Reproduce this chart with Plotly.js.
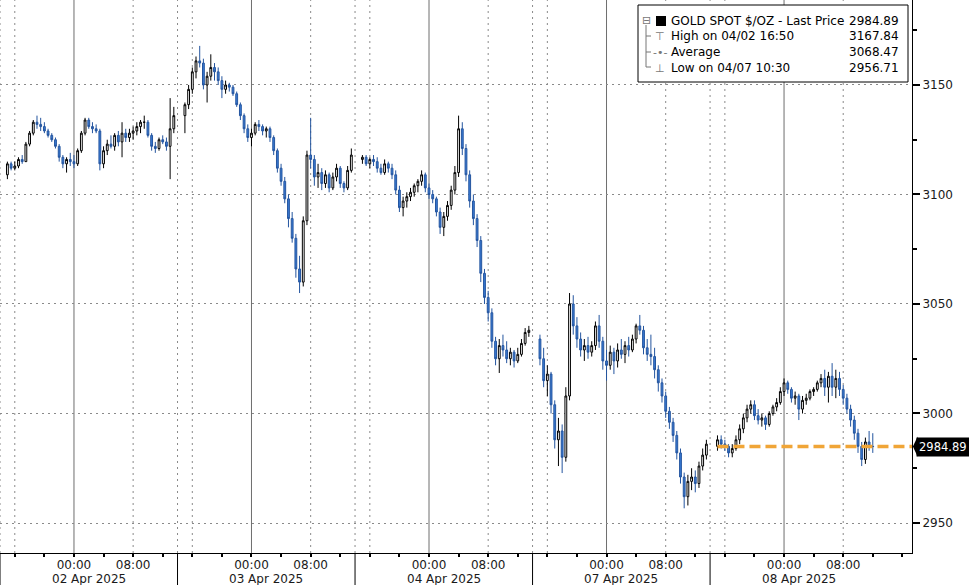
<!DOCTYPE html>
<html><head><meta charset="utf-8">
<script src="https://cdn.plot.ly/plotly-3.0.1.min.js"></script>
<style>html,body{margin:0;padding:0;background:#fff}#chart{width:969px;height:585px}</style>
</head><body><div id="chart"></div>
<script>
// ---- DATA (30-minute bars) ----
const sessionStarts = ['2025-04-01 15:00','2025-04-02 15:00','2025-04-03 15:00','2025-04-06 15:00','2025-04-07 15:00'];
const sessionBars = [46, 46, 46, 46, 43];

const openP = [
// 02 Apr session
3109,3114,3112,3113,3116,3115,3123,3128,3133,3132,3131,3129,3127,3125,3122,3117,3114,3116,3115,3114,
3120,3128,3134,3131,3130,3129,3114,3120,3123,3122,3127,3124,3128,3126,3128,3129,3131,3133,3133,3127,
3122,3121,3125,3124,3122,3130,
// 03 Apr session
3136,3141,3148,3156,3161,3160,3150,3154,3158,3156,3152,3148,3150,3149,3146,3141,3136,3130,3126,3128,
3132,3131,3129,3130,3126,3120,3112,3106,3098,3089,3080,3066,3060,3088,3118,3116,3108,3110,3105,3109,
3103,3108,3112,3105,3103,3111,
// 04 Apr session
3116,3117,3114,3116,3115,3112,3110,3114,3112,3109,3102,3094,3097,3099,3101,3104,3106,3109,3103,3100,
3098,3092,3085,3090,3095,3102,3110,3130,3121,3109,3097,3089,3079,3064,3053,3046,3033,3025,3031,3029,
3025,3028,3024,3027,3032,3037,
// 07 Apr session
3034,3025,3015,3018,3004,2988,2992,2980,3008,3050,3040,3034,3029,3031,3028,3031,3040,3033,3024,3022,
3028,3024,3029,3027,3031,3029,3034,3040,3038,3030,3027,3026,3020,3014,3008,3001,2996,2990,2982,2971,
2962,2969,2971,2968,2976,2981,
// 08 Apr session
2985,2988,2986,2985,2982,2984,2988,2993,2998,3002,3004,2999,2997,2998,2995,3000,3003,3005,3010,3014,
3011,3007,3008,3002,3006,3007,3010,3011,3014,3016,3012,3017,3012,3016,3011,3007,3002,2997,2991,2985,
2979,2987,2985
];
const highP = [
3115,3115,3115,3117,3118,3124,3129,3134,3136,3135,3133,3130,3128,3126,3123,3118,3117,3119,3118,3121,
3129,3135,3135,3133,3132,3130,3122,3125,3127,3128,3129,3133,3130,3130,3131,3133,3134,3136,3134,3128,
3124,3126,3127,3126,3144,3140,
3142,3150,3158,3163,3167.84,3162,3156,3164,3160,3158,3154,3152,3151,3150,3147,3142,3137,3132,3130,3133,
3134,3132,3131,3131,3127,3121,3114,3108,3100,3092,3082,3072,3090,3120,3135,3118,3114,3112,3111,3110,
3110,3114,3113,3106,3113,3121,
3118,3118,3117,3118,3117,3114,3116,3115,3114,3111,3104,3099,3101,3103,3105,3107,3111,3110,3105,3102,
3099,3094,3092,3097,3104,3113,3136,3133,3123,3111,3100,3091,3081,3066,3056,3048,3035,3034,3036,3033,
3030,3029,3030,3034,3039,3040,
3036,3030,3022,3019,3006,2998,2995,3012,3055,3054,3044,3037,3034,3035,3033,3042,3045,3035,3029,3031,
3030,3032,3034,3033,3035,3036,3041,3045,3040,3034,3036,3030,3022,3016,3010,3003,2998,2992,2984,2973,
2972,2975,2974,2978,2984,2988,
2990,2990,2988,2986,2986,2990,2995,3000,3004,3006,3006,3002,3000,2999,3001,3004,3007,3012,3016,3015,
3012,3010,3009,3008,3009,3011,3012,3015,3018,3020,3019,3023,3020,3019,3013,3009,3004,2999,2993,2987,
2989,2992,2991
];
const lowP = [
3107,3111,3111,3112,3114,3115,3122,3127,3130,3129,3128,3126,3124,3121,3115,3112,3110,3113,3112,3113,
3119,3127,3130,3128,3128,3111,3112,3118,3121,3120,3122,3117,3124,3124,3125,3127,3128,3130,3126,3120,
3119,3120,3123,3120,3107,3128,
3128,3139,3146,3153,3158,3148,3142,3152,3152,3150,3144,3146,3147,3145,3140,3134,3128,3124,3122,3127,
3129,3127,3126,3124,3118,3110,3104,3096,3085,3078,3062,3055,3058,3086,3112,3104,3103,3102,3103,3101,
3102,3106,3103,3101,3102,3110,
3114,3113,3112,3113,3110,3109,3109,3110,3107,3100,3092,3090,3094,3097,3099,3101,3104,3101,3098,3096,
3090,3082,3081,3088,3093,3100,3108,3118,3106,3094,3086,3076,3060,3050,3042,3030,3022,3018.5,3026,3023,
3022,3021,3023,3026,3031,3035,
3022,3012,3008,3000,2984,2976,2972.8,2978,3006,3036,3030,3026,3024,3025,3026,3029,3030,3020,3015,3020,
3018,3021,3025,3023,3026,3028,3032,3036,3027,3024,3022,3016,3010,3005,2998,2993,2987,2979,2968,2956.71,
2958,2965,2964,2966,2974,2979,
2983,2984,2983,2980,2980,2983,2986,2991,2996,3000,2997,2995,2994,2992.5,2994,2999,3001,3004,3008,3009,
3005,3004,2997,3000,3004,3006,3008,3010,3012,3008,3005,3008,3007,3008,3004,3000,2994,2988,2982,2976,
2977,2983,2982
];
const closeP = [
3114,3112,3113,3116,3115,3123,3128,3133,3132,3131,3129,3127,3125,3122,3117,3114,3116,3115,3114,3120,
3128,3134,3131,3130,3129,3114,3120,3123,3122,3127,3124,3128,3126,3128,3129,3131,3133,3133,3127,3122,
3121,3125,3124,3122,3130,3136,
3141,3148,3156,3161,3160,3150,3154,3158,3156,3152,3148,3150,3149,3146,3141,3136,3130,3126,3128,3132,
3131,3129,3130,3126,3120,3112,3106,3098,3089,3080,3066,3060,3088,3118,3116,3108,3110,3105,3109,3103,
3108,3112,3105,3103,3111,3118,
3117,3114,3116,3115,3112,3110,3114,3112,3109,3102,3094,3097,3099,3101,3104,3106,3109,3103,3100,3098,
3092,3085,3090,3095,3102,3110,3130,3121,3109,3097,3089,3079,3064,3053,3046,3033,3025,3031,3029,3025,
3028,3024,3027,3032,3037,3038,
3025,3015,3018,3004,2988,2992,2980,3008,3050,3040,3034,3029,3031,3028,3031,3040,3033,3024,3022,3028,
3024,3029,3027,3031,3029,3034,3040,3038,3030,3027,3026,3020,3014,3008,3001,2996,2990,2982,2971,2962,
2969,2971,2968,2976,2981,2986,
2988,2986,2985,2982,2984,2988,2993,2998,3002,3004,2999,2997,2998,2995,3000,3003,3005,3010,3014,3011,
3007,3008,3002,3006,3007,3010,3011,3014,3016,3012,3017,3012,3016,3011,3007,3002,2997,2991,2985,2979,
2987,2985,2984.89
];

const lastPrice = 2984.89;
const legendLabels = ['GOLD SPOT $/OZ - Last Price', 'High on 04/02 16:50', 'Average', 'Low on 04/07 10:30'];
const legendValues = ['2984.89', '3167.84', '3068.47', '2956.71'];
const legendIcons = ['\u229F', '\u22A4', '-\u2022-', '\u22A5'];
const dayLabels = ['02 Apr 2025', '03 Apr 2025', '04 Apr 2025', '07 Apr 2025', '08 Apr 2025'];
const dayCenters = ['2025-04-02 02:00', '2025-04-03 02:00', '2025-04-04 02:00', '2025-04-07 02:00', '2025-04-08 02:00'];
const tickVals = ['2025-04-02 00:00','2025-04-02 08:00','2025-04-03 00:00','2025-04-03 08:00','2025-04-04 00:00','2025-04-04 08:00','2025-04-07 00:00','2025-04-07 08:00','2025-04-08 00:00','2025-04-08 08:00'];
const tickText = ['00:00','08:00','00:00','08:00','00:00','08:00','00:00','08:00','00:00','08:00'];
const midnights = ['2025-04-02 00:00','2025-04-03 00:00','2025-04-04 00:00','2025-04-07 00:00','2025-04-08 00:00'];
const dottedTimes = ['2025-04-01 16:00','2025-04-02 08:00','2025-04-02 16:00','2025-04-03 08:00','2025-04-03 16:00','2025-04-04 08:00','2025-04-06 16:00','2025-04-07 08:00','2025-04-07 16:00','2025-04-08 08:00'];
const sessionBounds = ['2025-04-01 14:00','2025-04-02 14:00','2025-04-03 14:00','2025-04-04 14:00','2025-04-07 14:00'];

// ---- build bar times ----
function fmt(ms){ return new Date(ms).toISOString().slice(0,16).replace('T',' '); }
const times = [];
sessionStarts.forEach((s, si) => {
  const t0 = Date.parse(s.replace(' ', 'T') + ':00Z');
  for (let i = 0; i < sessionBars[si]; i++) times.push(fmt(t0 + i * 1800000));
});

const PW = 912, PH = 553;
const px = x => x / PW, py = y => 1 - y / PH;
const FONT = 'DejaVu Sans';

const shapes = [];
midnights.forEach(t => shapes.push({type:'line', xref:'x', yref:'paper', x0:t, x1:t, y0:0, y1:1, layer:'below', line:{color:'#6e6e6e', width:1}}));
dottedTimes.forEach(t => shapes.push({type:'line', xref:'x', yref:'paper', x0:t, x1:t, y0:0, y1:1, layer:'below', line:{color:'#8a8a8a', width:1, dash:'2px,4px'}}));
sessionBounds.forEach(t => {
  shapes.push({type:'line', xref:'x', yref:'paper', x0:t, x1:t, y0:0, y1:1, layer:'below', line:{color:'#8a8a8a', width:1, dash:'2px,4px'}});
  shapes.push({type:'line', xref:'x', yref:'paper', x0:t, x1:t, y0:-0.06, y1:0, line:{color:'#000', width:1}});
});
// last price dashed line
shapes.push({type:'line', xref:'x', yref:'y', x0:sessionStarts[4], x1:'2025-04-08 17:18', y0:lastPrice, y1:lastPrice, line:{color:'#f0a537', width:3.5, dash:'11px,5px'}});
// last price label notch
shapes.push({type:'path', xref:'paper', yref:'y', path:`M 1.001 ${lastPrice} L 1.0062 ${lastPrice+4.6} L 1.0062 ${lastPrice-4.6} Z`, fillcolor:'#000', line:{width:0}});
// legend box
shapes.push({type:'rect', xref:'paper', yref:'paper', x0:px(638), x1:px(908), y0:py(82), y1:py(5), fillcolor:'#fff', line:{color:'#000', width:1}, layer:'above'});
// legend tree lines
shapes.push({type:'line', xref:'paper', yref:'paper', x0:px(646), x1:px(646), y0:py(67), y1:py(25), line:{color:'#777', width:1}, layer:'above'});
[36, 52, 67].forEach(y => shapes.push({type:'line', xref:'paper', yref:'paper', x0:px(646), x1:px(651), y0:py(y), y1:py(y), line:{color:'#777', width:1}, layer:'above'}));
// black square marker of the series
shapes.push({type:'rect', xref:'paper', yref:'paper', x0:px(656), x1:px(666), y0:py(26), y1:py(16), fillcolor:'#000', line:{width:0}, layer:'above'});

const annotations = [];
dayLabels.forEach((d, i) => annotations.push({xref:'x', yref:'paper', x:dayCenters[i], y:py(579), text:d, showarrow:false, xanchor:'center', yanchor:'middle', font:{family:FONT, size:12, color:'#1a1a1a'}}));
const rowY = [21, 36, 52, 68];
legendLabels.forEach((t, i) => {
  annotations.push({xref:'paper', yref:'paper', x:px(669), y:py(rowY[i]), text:t, showarrow:false, xanchor:'left', yanchor:'middle', font:{family:FONT, size:12, color:'#000'}});
  annotations.push({xref:'paper', yref:'paper', x:px(901), y:py(rowY[i]), text:legendValues[i], showarrow:false, xanchor:'right', yanchor:'middle', font:{family:FONT, size:12, color:'#000'}});
});
annotations.push({xref:'paper', yref:'paper', x:px(646), y:py(rowY[0]), text:legendIcons[0], showarrow:false, xanchor:'center', yanchor:'middle', font:{family:FONT, size:11, color:'#777'}});
for (let i = 1; i < 4; i++) annotations.push({xref:'paper', yref:'paper', x:px(660), y:py(rowY[i]), text:legendIcons[i], showarrow:false, xanchor:'center', yanchor:'middle', font:{family:FONT, size:11, color:'#777'}});
// last price box
annotations.push({xref:'paper', yref:'y', x:px(916.5), y:lastPrice, text:lastPrice.toFixed(2), showarrow:false, xanchor:'left', yanchor:'middle', bgcolor:'#000', borderpad:2, font:{family:FONT, size:11.5, color:'#fff'}});

const trace = {
  type:'candlestick', x:times, open:openP, high:highP, low:lowP, close:closeP,
  increasing:{line:{color:'#000', width:1}, fillcolor:'#ffffff'},
  decreasing:{line:{color:'#24559f', width:1}, fillcolor:'#3a7bd5'},
  whiskerwidth:0, hoverinfo:'skip', showlegend:false
};

const layout = {
  width:969, height:585,
  margin:{l:0, r:57, t:0, b:32, autoexpand:false},
  paper_bgcolor:'#fff', plot_bgcolor:'#fff',
  showlegend:false, hovermode:false,
  font:{family:FONT, size:12, color:'#1a1a1a'},
  xaxis:{
    type:'date', range:['2025-04-01 14:00','2025-04-08 17:18'],
    rangebreaks:[{bounds:['2025-04-04 14:00','2025-04-06 14:00']}],
    rangeslider:{visible:false},
    tickmode:'array', tickvals:tickVals, ticktext:tickText,
    ticks:'outside', ticklen:3, tickwidth:2, tickcolor:'#000', ticklabelstandoff:-2,
    minor:{dtick:14400000, tick0:'2025-04-01 00:00', ticks:'outside', ticklen:3, tickcolor:'#000', showgrid:false},
    showgrid:false, showline:true, linecolor:'#000', linewidth:1, zeroline:false,
    tickfont:{family:FONT, size:12, color:'#1a1a1a'}
  },
  yaxis:{
    side:'right', range:[2936.3, 3188.8], tickmode:'linear', tick0:2950, dtick:50,
    ticks:'outside', ticklen:7, tickwidth:2, tickcolor:'#000',
    minor:{dtick:25, tick0:2950, ticks:'outside', ticklen:4, tickcolor:'#000', showgrid:false},
    showgrid:true, gridcolor:'#8a8a8a', gridwidth:1, griddash:'2px,4px',
    showline:true, linecolor:'#000', linewidth:1, zeroline:false,
    tickfont:{family:FONT, size:12, color:'#1a1a1a'}
  },
  shapes:shapes, annotations:annotations
};

Plotly.newPlot('chart', [trace], layout, {staticPlot:true, displayModeBar:false});
</script>
</body></html>
